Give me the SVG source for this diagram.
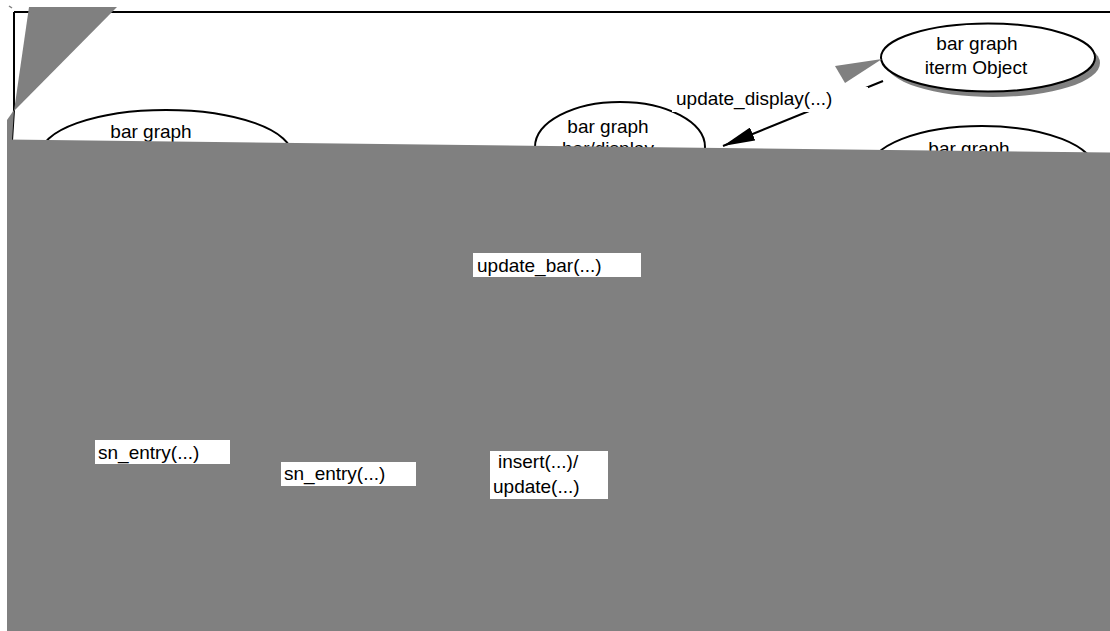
<svg xmlns="http://www.w3.org/2000/svg" width="1110" height="631" viewBox="0 0 1110 631">
<style>
  .node { fill: #ffffff; stroke: #000000; stroke-width: 2; }
  .shadow { fill: #808080; stroke: none; }
  .txt { font-family: "Liberation Sans", Arial, sans-serif; font-size: 19px; fill: #000000; }
  .mid { text-anchor: middle; }
  .edge { fill: none; stroke: #000000; stroke-width: 2; }
  .lbl { fill: #ffffff; stroke: none; }
  .gray { fill: #808080; stroke: none; }
</style>
<defs>
  <marker id="arrow" markerUnits="userSpaceOnUse" viewBox="0 0 32 14" refX="32" refY="7" markerWidth="32" markerHeight="14" orient="auto">
    <path d="M0,0 L32,7 L0,14 z" fill="#000000"/>
  </marker>
</defs>
<rect x="0" y="0" width="1110" height="631" fill="#ffffff"/>

<g id="frame">
  <path d="M14,12 L1110,12" stroke="#000" stroke-width="2" fill="none"/>
  <path d="M14,12 L14,110 L12,141" stroke="#000" stroke-width="2" fill="none"/>
</g>

<g id="node-left">
  <ellipse class="node" cx="166" cy="155" rx="126" ry="45"/>
  <text class="txt mid" x="151" y="138">bar graph</text>
</g>

<g id="node-middle">
  <ellipse class="node" cx="620" cy="147" rx="85" ry="45"/>
  <text class="txt mid" x="608" y="133">bar graph</text>
  <text class="txt mid" x="608" y="155">bar/display</text>
</g>

<g id="node-item">
  <ellipse class="shadow" cx="993" cy="63" rx="107" ry="34"/>
  <ellipse class="node" cx="988" cy="57.5" rx="107" ry="34"/>
  <text class="txt mid" x="977" y="50">bar graph</text>
  <text class="txt mid" x="976" y="74">iterm Object</text>
</g>

<g id="node-right">
  <ellipse class="node" cx="982" cy="170" rx="113" ry="44"/>
  <text class="txt mid" x="969" y="155">bar graph</text>
</g>

<g id="connectors">
  <path class="edge" d="M883,81 L723,146" marker-end="url(#arrow)"/>
  <rect class="lbl" x="672" y="87" width="196" height="25"/>
  <text class="txt" x="676" y="105">update_display(...)</text>
  <polygon class="gray" points="835,66 882,59 845,83"/>
</g>

<g id="overlay">
  <polygon class="gray" points="29,7 117,7 14,111"/>
  <polygon class="gray" points="14,110 7,120 7,141 12,141"/>
  <path d="M9,6 L12,8" stroke="#808080" stroke-width="1.5"/>
  <polygon class="gray" points="7,139.5 1110,152.5 1110,631 7,631"/>
</g>

<g id="labels">
  <rect class="lbl" x="473" y="253" width="168" height="24"/>
  <text class="txt" x="477" y="272">update_bar(...)</text>
  <rect class="lbl" x="95" y="440" width="135" height="24"/>
  <text class="txt" x="98" y="459">sn_entry(...)</text>
  <rect class="lbl" x="281" y="462" width="135" height="24"/>
  <text class="txt" x="284" y="480">sn_entry(...)</text>
  <rect class="lbl" x="490" y="451" width="118" height="48"/>
  <text class="txt" x="498" y="468">insert(...)/</text>
  <text class="txt" x="493" y="493">update(...)</text>
</g>
</svg>
